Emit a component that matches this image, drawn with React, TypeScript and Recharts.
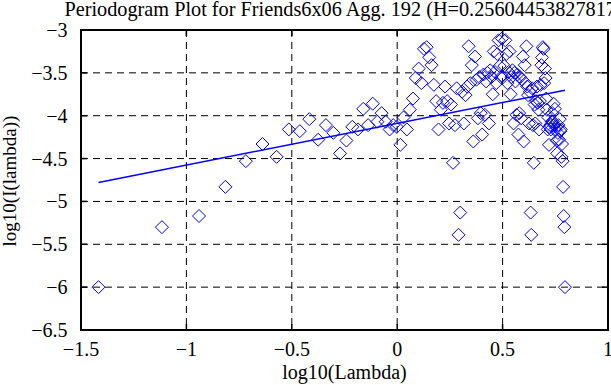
import React from "react"
import {
  ReferenceArea,
  ReferenceLine,
  Scatter,
  ScatterChart,
  CartesianGrid,
  XAxis,
  YAxis,
} from "recharts"

// log10 of the Fourier frequencies (x) and log10 of the periodogram (y)
const log10Lambda = [
  -1.417, -1.116, -0.940, -0.815, -0.718, -0.639, -0.572, -0.514, -0.462, -0.417,
  -0.375, -0.338, -0.303, -0.271, -0.241, -0.213, -0.186, -0.161, -0.138, -0.116,
  -0.094, -0.074, -0.055, -0.036, -0.019, -0.002, 0.015, 0.030, 0.046, 0.060,
  0.075, 0.088, 0.102, 0.115, 0.127, 0.140, 0.152, 0.163, 0.174, 0.185,
  0.196, 0.207, 0.217, 0.227, 0.237, 0.246, 0.255, 0.265, 0.274, 0.282,
  0.291, 0.299, 0.308, 0.316, 0.324, 0.332, 0.339, 0.347, 0.354, 0.361,
  0.369, 0.376, 0.383, 0.390, 0.396, 0.403, 0.409, 0.416, 0.422, 0.428,
  0.435, 0.441, 0.447, 0.453, 0.458, 0.464, 0.470, 0.475, 0.481, 0.486,
  0.492, 0.497, 0.502, 0.508, 0.513, 0.518, 0.523, 0.528, 0.533, 0.538,
  0.542, 0.547, 0.552, 0.556, 0.561, 0.566, 0.570, 0.575, 0.579, 0.583,
  0.588, 0.592, 0.596, 0.600, 0.605, 0.609, 0.613, 0.617, 0.621, 0.625,
  0.629, 0.633, 0.636, 0.640, 0.644, 0.648, 0.652, 0.655, 0.659, 0.663,
  0.666, 0.670, 0.673, 0.677, 0.680, 0.684, 0.687, 0.691, 0.694, 0.697,
  0.701, 0.704, 0.707, 0.710, 0.714, 0.717, 0.720, 0.723, 0.726, 0.729,
  0.733, 0.736, 0.739, 0.742, 0.745, 0.748, 0.751, 0.754, 0.757, 0.759,
  0.762, 0.765, 0.768, 0.771, 0.774, 0.776, 0.779, 0.782, 0.785, 0.787,
  0.790, 0.793, 0.796,
]

const log10I = [
  -6.00, -5.30, -5.17, -4.83, -4.53, -4.33, -4.48, -4.16, -4.18, -4.04,
  -4.28, -4.11, -4.20, -4.44, -4.29, -4.13, -4.16, -3.92, -4.11, -3.86,
  -4.07, -3.97, -4.07, -4.16, -4.11, -4.13, -4.34, -4.02, -4.16, -3.93,
  -3.80, -3.56, -3.45, -3.62, -3.22, -3.20, -3.32, -3.41, -3.64, -3.83,
  -4.16, -3.93, -3.85, -3.66, -3.83, -4.09, -3.87, -4.55, -4.11, -3.68,
  -5.39, -5.13, -3.72, -4.09, -3.76, -3.66, -3.19, -3.62, -3.41, -4.30,
  -3.31, -3.58, -4.03, -3.55, -3.97, -4.22, -3.52, -3.99, -3.60, -3.50,
  -4.09, -3.47, -3.55, -3.75, -3.25, -3.49, -3.62, -3.28, -3.12, -3.42,
  -3.55, -3.10, -3.55, -3.42, -3.12, -3.28, -3.62, -3.49, -3.25, -3.75,
  -3.55, -3.47, -4.09, -3.50, -3.60, -3.99, -3.52, -4.22, -3.97, -3.55,
  -4.03, -3.58, -3.31, -4.30, -3.41, -3.62, -3.19, -3.66, -3.76, -4.09,
  -3.72, -5.13, -5.39, -3.68, -4.11, -4.55, -3.87, -4.09, -3.83, -3.66,
  -3.85, -3.93, -4.16, -3.83, -3.64, -3.41, -3.32, -3.20, -3.22, -3.62,
  -3.45, -3.56, -3.80, -3.93, -4.16, -4.02, -4.34, -4.13, -4.11, -4.16,
  -4.07, -3.97, -4.07, -3.86, -4.11, -3.92, -4.16, -4.13, -4.29, -4.44,
  -4.20, -4.11, -4.28, -4.04, -4.18, -4.16, -4.48, -4.33, -4.53, -4.83,
  -5.17, -5.30, -6.00,
]

// least squares fit endpoints
const fitX = [-1.417, 0.796]
const fitY = [-4.778, -3.702]

const xTicks = [-1.5, -1, -0.5, 0, 0.5, 1]
const yTicks = [-6.5, -6, -5.5, -5, -4.5, -4, -3.5, -3]

const TITLE = "Periodogram Plot for Friends6x06 Agg. 192 (H=0.25604453827817)"
const FONT = '"Liberation Serif", "Times New Roman", Times, serif'
const BLUE = "#0000ff"

const points = log10Lambda.map((x, i) => ({ x, y: log10I[i] }))
const fitPoints = fitX.map((x, i) => ({ x, y: fitY[i] }))

const fmt = (v: number) => String(v).replace("-", "\u2212")

function Diamond(props: any) {
  const { cx, cy } = props
  if (cx == null || cy == null) return <g />
  const r = 6.5
  return (
    <path
      d={`M${cx},${cy - r}L${cx + r},${cy}L${cx},${cy + r}L${cx - r},${cy}Z`}
      fill="none"
      stroke={BLUE}
      strokeWidth={1}
    />
  )
}

function XTick(props: any) {
  const { x, y, payload } = props
  return (
    <text x={x} y={y + 26} textAnchor="middle" style={{ fontFamily: FONT, fontSize: 20 }} fill="#000">
      {fmt(payload.value)}
    </text>
  )
}

function YTick(props: any) {
  const { x, y, payload } = props
  return (
    <text x={x - 13.5} y={y + 7} textAnchor="end" style={{ fontFamily: FONT, fontSize: 20 }} fill="#000">
      {fmt(payload.value)}
    </text>
  )
}

const TICK_X = 0.0285
const TICK_Y = 0.07

export default function App() {
  const innerX = xTicks.slice(1, -1)
  const innerY = yTicks.slice(1, -1)
  return (
    <div style={{ position: "relative", width: 611, height: 385, overflow: "hidden", background: "#fff" }}>
      <style>{"body{margin:0}"}</style>
      <ScatterChart width={611} height={385} margin={{ top: 30, right: 3, bottom: 0, left: 0 }}>
        <CartesianGrid stroke="#000" strokeDasharray="7 5" horizontalValues={yTicks} verticalValues={xTicks} />
        <XAxis
          dataKey="x"
          type="number"
          domain={[-1.5, 1]}
          ticks={xTicks}
          interval={0}
          height={55}
          axisLine={false}
          tickLine={false}
          tickSize={0}
          tickMargin={0}
          tick={<XTick />}
          allowDataOverflow
        />
        <YAxis
          dataKey="y"
          type="number"
          domain={[-6.5, -3]}
          ticks={yTicks}
          interval={0}
          width={81}
          axisLine={false}
          tickLine={false}
          tickSize={0}
          tickMargin={0}
          tick={<YTick />}
          allowDataOverflow
        />
        {innerX.map((v) => (
          <ReferenceLine key={`tt${v}`} segment={[{ x: v, y: -3 }, { x: v, y: -3 - TICK_Y }]} stroke="#000" strokeWidth={1.5} />
        ))}
        {innerX.map((v) => (
          <ReferenceLine key={`tb${v}`} segment={[{ x: v, y: -6.5 }, { x: v, y: -6.5 + TICK_Y }]} stroke="#000" strokeWidth={1.5} />
        ))}
        {innerY.map((v) => (
          <ReferenceLine key={`tl${v}`} segment={[{ x: -1.5, y: v }, { x: -1.5 + TICK_X, y: v }]} stroke="#000" strokeWidth={1.5} />
        ))}
        {innerY.map((v) => (
          <ReferenceLine key={`tr${v}`} segment={[{ x: 1, y: v }, { x: 1 - TICK_X, y: v }]} stroke="#000" strokeWidth={1.5} />
        ))}
        <ReferenceArea x1={-1.5} x2={1} y1={-6.5} y2={-3} fill="none" stroke="#000" strokeWidth={2} />
        <Scatter data={points} shape={<Diamond />} isAnimationActive={false} />
        <Scatter
          data={fitPoints}
          line={{ stroke: BLUE, strokeWidth: 1.5 }}
          lineType="joint"
          shape={() => <g />}
          isAnimationActive={false}
        />
      </ScatterChart>
      <svg width={611} height={385} style={{ position: "absolute", left: 0, top: 0, pointerEvents: "none" }}>
        <text x={64.5} y={16} style={{ fontFamily: FONT, fontSize: 20.25 }} fill="#000">
          {TITLE}
        </text>
        <text x={344.5} y={379} textAnchor="middle" style={{ fontFamily: FONT, fontSize: 20 }} fill="#000">
          log10(Lambda)
        </text>
        <text
          x={16}
          y={181}
          textAnchor="middle"
          style={{ fontFamily: FONT, fontSize: 19 }}
          fill="#000"
          transform="rotate(-90 16 181)"
        >
          log10(I(lambda))
        </text>
      </svg>
    </div>
  )
}
